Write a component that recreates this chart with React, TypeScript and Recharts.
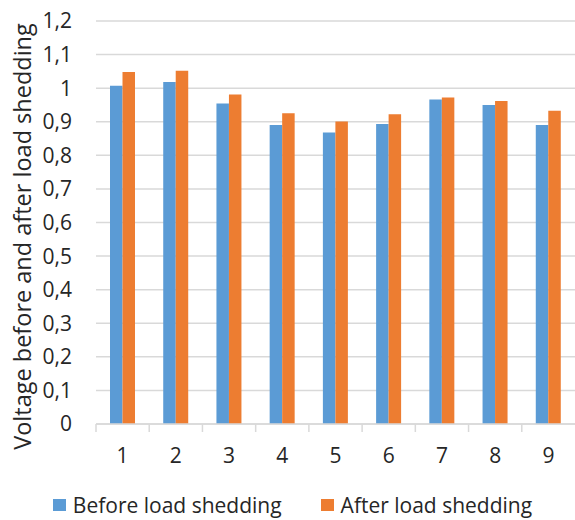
import React from 'react';
import { BarChart, Bar, XAxis, YAxis, CartesianGrid, Legend, Label } from 'recharts';

const nodes = ['1', '2', '3', '4', '5', '6', '7', '8', '9'];
const beforeShedding = [1.007, 1.018, 0.954, 0.89, 0.868, 0.893, 0.966, 0.95, 0.89];
const afterShedding = [1.048, 1.052, 0.981, 0.925, 0.901, 0.922, 0.972, 0.962, 0.933];
const yTicks = [0, 0.1, 0.2, 0.3, 0.4, 0.5, 0.6, 0.7, 0.8, 0.9, 1, 1.1, 1.2];

const data = nodes.map((n, i) => ({
  node: n,
  before: beforeShedding[i],
  after: afterShedding[i],
}));

const W = 575;
const H = 520;
const Y_AXIS_W = 96;
const BAND = (W - Y_AXIS_W) / nodes.length;
const FONT = '"Open Sans", sans-serif';
const TEXT = '#262626';
const GRID = '#d9d9d9';
const BLUE = '#5b9bd5';
const ORANGE = '#ed7d31';

const XTick = (props: any) => {
  const { x, y, payload } = props;
  return (
    <g>
      <line x1={x - BAND / 2} x2={x - BAND / 2} y1={y} y2={y + 8} stroke={GRID} strokeWidth={1.5} />
      <text x={x} y={y + 39} textAnchor="middle" fontSize={21} fontFamily={FONT} fill={TEXT}>
        {payload.value}
      </text>
    </g>
  );
};

const YLabel = (props: any) => {
  const { viewBox } = props;
  const cy = viewBox.y + viewBox.height / 2 + 14;
  return (
    <text
      x={22}
      y={cy}
      transform={`rotate(-90, 22, ${cy})`}
      textAnchor="middle"
      dominantBaseline="central"
      fontSize={23.5}
      fontFamily={FONT}
      fill={TEXT}
    >
      Voltage before and after load shedding
    </text>
  );
};

const LegendContent = () => (
  <div
    style={{
      display: 'flex',
      justifyContent: 'center',
      gap: 39,
      height: 36,
      alignItems: 'center',
      fontFamily: FONT,
      fontSize: 21,
      lineHeight: '26px',
      color: TEXT,
      paddingLeft: 10,
      transform: 'translateY(3px)',
    }}
  >
    {[
      { label: 'Before load shedding', color: BLUE },
      { label: 'After load shedding', color: ORANGE },
    ].map((it) => (
      <div key={it.label} style={{ display: 'flex', alignItems: 'center' }}>
        <span style={{ width: 13, height: 12, background: it.color, marginRight: 7 }} />
        <span>{it.label}</span>
      </div>
    ))}
  </div>
);

export default function App() {
  return (
    <div style={{ position: 'absolute', left: 0, top: 0, width: W, height: H, background: '#fff' }}>
      <BarChart
        width={W}
        height={H}
        data={data}
        margin={{ top: 21, right: 0, left: 0, bottom: 0 }}
        barGap={0}
        barSize={12.5}
      >
        <CartesianGrid vertical={false} stroke={GRID} strokeWidth={1.5} />
        <XAxis
          dataKey="node"
          height={60}
          axisLine={{ stroke: GRID, strokeWidth: 1.5 }}
          tickLine={false}
          tickSize={0}
          tickMargin={0}
          tick={<XTick />}
          interval={0}
        />
        <YAxis
          width={Y_AXIS_W}
          domain={[0, 1.2]}
          ticks={yTicks}
          axisLine={false}
          tickLine={false}
          tickSize={0}
          tickMargin={24}
          tick={{ fontSize: 21, fontFamily: FONT, fill: TEXT }}
          tickFormatter={(v: number) => String(Math.round(v * 10) / 10).replace('.', ',')}
        >
          <Label content={<YLabel />} />
        </YAxis>
        <Legend verticalAlign="bottom" content={<LegendContent />} wrapperStyle={{ height: 36 }} />
        <Bar dataKey="before" name="Before load shedding" fill={BLUE} isAnimationActive={false} />
        <Bar dataKey="after" name="After load shedding" fill={ORANGE} isAnimationActive={false} />
      </BarChart>
    </div>
  );
}
